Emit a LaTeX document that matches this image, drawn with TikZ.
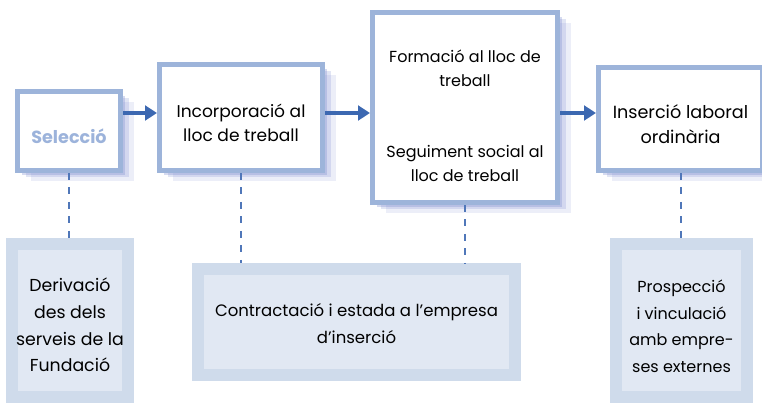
\documentclass[tikz,border=0pt]{standalone}
\usepackage{fontspec}
\setmainfont{Poppins}
\usepackage{xcolor}
\usepackage{tikz}
\usetikzlibrary{arrows.meta, positioning, shadows}

\definecolor{boxline}{RGB}{157,180,218}
\definecolor{shadowc}{RGB}{120,135,205}
\definecolor{flowc}{RGB}{60,104,177}
\definecolor{outerc}{RGB}{207,219,235}
\definecolor{innerc}{RGB}{225,232,243}
\definecolor{selc}{RGB}{156,179,219}

\begin{document}
\begin{tikzpicture}[
    x=0.75pt, y=-0.75pt,
    font=\fontsize{12}{18}\selectfont,
    stepbox/.style={rectangle, draw=boxline, line width=3.75pt, fill=white, align=center,
        general shadow={shadow xshift=3pt, shadow yshift=-3pt, fill=shadowc, opacity=.3},
        general shadow={shadow xshift=6pt, shadow yshift=-5pt, fill=shadowc, opacity=.22},
        general shadow={shadow xshift=10pt, shadow yshift=-8pt, fill=shadowc, opacity=.14}},
    notebox/.style={rectangle, draw=outerc, line width=9pt, fill=innerc, align=center,
        font=\fontsize{12}{20}\selectfont},
    lowtext/.style={text height=#1, text depth=0pt},
    txt/.style={align=center},
    arrow/.style={line width=3pt, draw=flowc, -{Triangle[length=9pt,width=11pt]}},
    link/.style={line width=1.5pt, draw=flowc!90, dash pattern=on 5.25pt off 5.6pt}
]
\useasboundingbox (0,0) rectangle (762,404);
\coordinate (lvl) at (0,113);

% Steps
\node[stepbox, lowtext=18pt, minimum width=77.25pt, minimum height=59.25pt, text=selc,
    font=\fontsize{13.2}{18}\selectfont\bfseries] (sel) at (69,131) {Selecció};
\node[stepbox, lowtext=36pt, minimum width=122.25pt, minimum height=79.5pt,
    font=\fontsize{12.8}{18}\selectfont] (inc) at (241,117.5) {Incorporació al\\lloc de treball};
\node[stepbox, minimum width=138.75pt, minimum height=142.5pt] (form) at (465,107.5) {};
\node[txt] (formtop) at (465,68) {Formació al lloc de\\treball};
\node[txt] (formbot) at (465,163) {Seguiment social al\\lloc de treball};
\node[stepbox, lowtext=36pt, minimum width=123pt, minimum height=77.25pt,
    font=\fontsize{13.2}{18.75}\selectfont] (ins) at (680.5,119) {Inserció laboral\\ordinària};

% Notes
\node[notebox, lowtext=77pt, minimum width=85.5pt, minimum height=114.75pt,
    font=\fontsize{13}{20}\selectfont] (der) at (70,320.5)
    {Derivació\\des dels\\serveis de la\\Fundació};
\node[notebox, lowtext=32pt, minimum width=237.75pt, minimum height=79.5pt,
    font=\fontsize{12.4}{20}\selectfont] (ctr) at (356.5,322)
    {Contractació i estada a l’empresa\\d’inserció};
\node[notebox, lowtext=78pt, minimum width=98.25pt, minimum height=114.75pt] (pro) at (681.5,320.5)
    {Prospecció\\i vinculació\\amb empre-\\ses externes};

% Arrows
\draw[arrow] (sel.east |- lvl) -- (inc.west |- lvl);
\draw[arrow] (inc.east |- lvl) -- (form.west |- lvl);
\draw[arrow] (form.east |- lvl) -- (ins.west |- lvl);

% Links
\draw[link] (sel.south) -- (sel.south |- der.north);
\draw[link] (inc.south) -- (inc.south |- ctr.north);
\draw[link] (form.south) -- (form.south |- ctr.north);
\draw[link] (ins.south) -- (ins.south |- pro.north);

\end{tikzpicture}
\end{document}
